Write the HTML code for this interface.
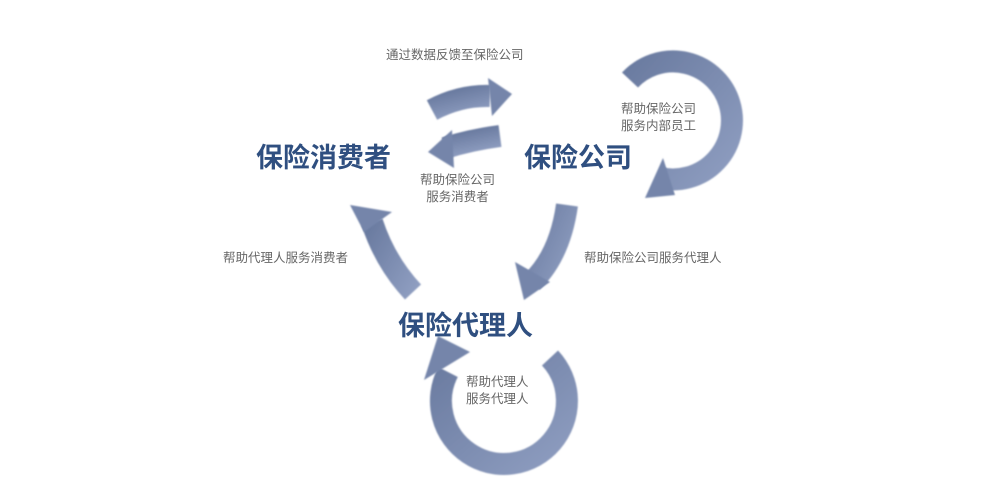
<!DOCTYPE html>
<html><head><meta charset="utf-8"><style>
body{margin:0;background:#fff;width:1000px;height:494px;overflow:hidden;position:relative;font-family:"Liberation Sans","Noto Sans CJK SC",sans-serif}
.t{position:absolute;color:#2f4f80;font-weight:bold;font-size:27px;white-space:nowrap}
.l{position:absolute;color:#666;font-size:12.5px;line-height:17px;white-space:nowrap}
</style></head><body>
<svg width="1000" height="494" style="position:absolute;left:0;top:0">
<defs>
<linearGradient id="g" x1="0" y1="0" x2="1" y2="1"><stop offset="0" stop-color="#6a7ba0"/><stop offset="1" stop-color="#8e9dc0"/></linearGradient>
<filter id="b"><feGaussianBlur stdDeviation="0.8"/></filter>
</defs>
<g fill="none" stroke="url(#g)" stroke-width="22" filter="url(#b)">
<path d="M630,80 A59,59 0 1 1 660,178"/>
<path d="M550,358 A63,63 0 1 1 448,372"/>
<path d="M413,292 Q385,262 372,222"/>
<path d="M567,205 Q560,255 532,282"/>
<path d="M432,110 Q460,95 490,96"/>
<path d="M500,136 Q470,140 445,148"/>
</g>
<g fill="#7585aa" filter="url(#b)">
<polygon points="645,198 663,158 675,195"/>
<polygon points="438,336 470,352 424,380"/>
<polygon points="350,205 392,212 364,232"/>
<polygon points="524,300 515,262 550,282"/>
<polygon points="512,94 488,78 492,116"/>
<polygon points="428,152 452,130 454,168"/>
</g>
</svg>
<div class="t" style="left:256px;top:136px">保险消费者</div>
<div class="t" style="left:524px;top:136px">保险公司</div>
<div class="t" style="left:398px;top:304px">保险代理人</div>
<div class="l" style="left:386px;top:47px">通过数据反馈至保险公司</div>
<div class="l" style="left:420px;top:172px;text-align:center">帮助保险公司<br>服务消费者</div>
<div class="l" style="left:621px;top:101px">帮助保险公司<br>服务内部员工</div>
<div class="l" style="left:223px;top:250px">帮助代理人服务消费者</div>
<div class="l" style="left:584px;top:250px">帮助保险公司服务代理人</div>
<div class="l" style="left:466px;top:374px">帮助代理人<br>服务代理人</div>
</body></html>
